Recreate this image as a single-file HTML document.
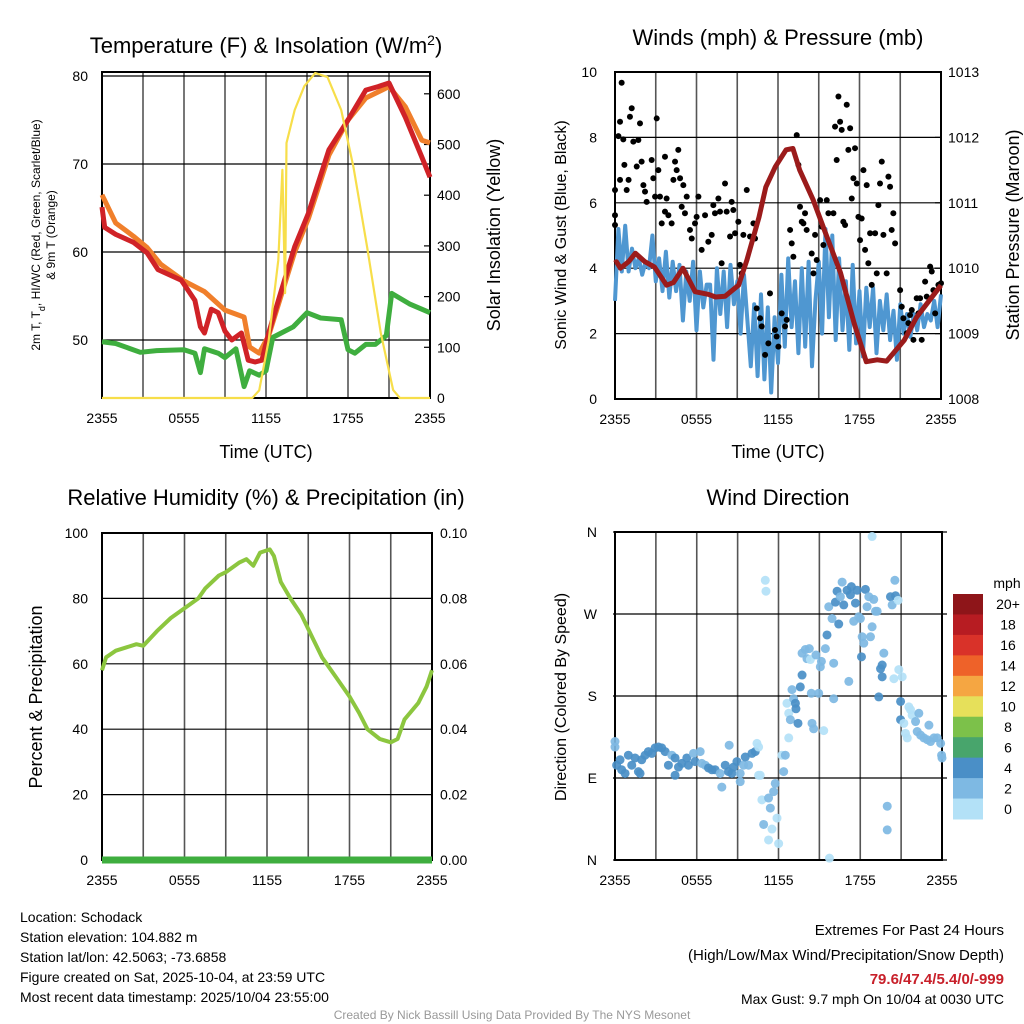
<!DOCTYPE html>
<html><head><meta charset="utf-8">
<style>
html,body{margin:0;padding:0;background:#fff;}
svg{display:block;font-family:"Liberation Sans",Arial,sans-serif;}
</style></head>
<body>
<svg id="chart" width="1024" height="1024" viewBox="0 0 1024 1024" xmlns="http://www.w3.org/2000/svg">
<rect x="0" y="0" width="1024" height="1024" fill="#fff"/>
<g id="p1"></g>
<g id="p2"></g>
<g id="p3"></g>
<g id="p4"></g>

<text x="266" y="53" font-size="22" text-anchor="middle">Temperature (F) &amp; Insolation (W/m<tspan baseline-shift="super" font-size="14">2</tspan>)</text>
<text x="778" y="45" font-size="22" text-anchor="middle">Winds (mph) &amp; Pressure (mb)</text>
<text x="266" y="505" font-size="22" text-anchor="middle">Relative Humidity (%) &amp; Precipitation (in)</text>
<text x="778" y="505" font-size="22" text-anchor="middle">Wind Direction</text>

<text x="266" y="458" font-size="18" text-anchor="middle">Time (UTC)</text>
<text x="778" y="458" font-size="18" text-anchor="middle">Time (UTC)</text>

<text transform="translate(40,235) rotate(-90)" font-size="12" text-anchor="middle">2m T, T<tspan baseline-shift="sub" font-size="9">d</tspan>, HI/WC (Red, Green, Scarlet/Blue)</text>
<text transform="translate(55,235) rotate(-90)" font-size="12" text-anchor="middle">&amp; 9m T (Orange)</text>
<text transform="translate(500,235) rotate(-90)" font-size="18" text-anchor="middle">Solar Insolation (Yellow)</text>
<text transform="translate(566,235) rotate(-90)" font-size="16" text-anchor="middle">Sonic Wind &amp; Gust (Blue, Black)</text>
<text transform="translate(1019,235) rotate(-90)" font-size="18" text-anchor="middle">Station Pressure (Maroon)</text>
<text transform="translate(42,697) rotate(-90)" font-size="18" text-anchor="middle">Percent &amp; Precipitation</text>
<text transform="translate(566,697) rotate(-90)" font-size="16" text-anchor="middle">Direction (Colored By Speed)</text>

<g font-size="14">
<text x="20" y="922">Location: Schodack</text>
<text x="20" y="942">Station elevation: 104.882 m</text>
<text x="20" y="962">Station lat/lon: 42.5063; -73.6858</text>
<text x="20" y="982">Figure created on Sat, 2025-10-04, at 23:59 UTC</text>
<text x="20" y="1002">Most recent data timestamp: 2025/10/04 23:55:00</text>
</g>
<g text-anchor="end">
<text x="1004" y="935" font-size="15">Extremes For Past 24 Hours</text>
<text x="1004" y="960" font-size="15">(High/Low/Max Wind/Precipitation/Snow Depth)</text>
<text x="1004" y="984" font-size="15" font-weight="bold" fill="#c8202a">79.6/47.4/5.4/0/-999</text>
<text x="1004" y="1004" font-size="14">Max Gust: 9.7 mph On 10/04 at 0030 UTC</text>
</g>
<text x="512" y="1019" font-size="12" fill="#999" text-anchor="middle">Created By Nick Bassill Using Data Provided By The NYS Mesonet</text>
</svg>
<script>
// ---------- data ----------
const xTickLabels = ["2355","0555","1155","1755","2355"];
const tempTicks = [50,60,70,80];
const insolTicks = [0,100,200,300,400,500,600];
const windTicks = [0,2,4,6,8,10];
const presTicks = [1008,1009,1010,1011,1012,1013];
const rhTicks = [0,20,40,60,80,100];
const precipTicks = ["0.00","0.02","0.04","0.06","0.08","0.10"];
const dirTicks = ["N","E","S","W","N"];

const tempT = [0,0.2,1,2.3,3.3,4.1,5.8,6.8,7.2,7.5,8.0,8.5,9.0,9.5,10.2,10.7,11.2,11.7,12.2,13.0,14.1,15.1,16.6,18.0,19.3,20.2,21.0,22.2,23.4,24];
const tempRed = [65.1,62.8,62.0,61.1,59.9,58.0,56.8,54.5,51.5,50.8,53.5,53.1,51.0,50.0,50.8,47.7,47.5,47.7,50.8,55.0,60.6,64.4,71.6,75.0,78.4,78.8,79.2,75.3,70.8,68.5];
const orangeT = [0,1,2.3,3.3,4.3,6,7.5,9,10.4,10.8,11.5,12.2,14.1,15.1,16.6,18,19.3,21,22.2,23.4,24];
const tempOrange = [66.5,63.3,61.8,60.5,58.6,56.7,55.5,53.4,52.6,49.2,48.5,50.5,60.0,63.8,71.0,75.0,77.5,78.8,76.5,72.7,72.4];
const dewT = [0,1,2.8,4,6,6.8,7.2,7.5,8.5,9,9.8,10.4,10.8,11.5,12,12.5,14,15,16,17.5,18,18.5,19.3,20,20.8,21.2,22.5,24];
const dewGreen = [49.8,49.6,48.6,48.8,48.9,48.5,46.3,49.0,48.5,48.0,49.0,44.7,46.5,46.0,46.5,50.3,51.5,53.1,52.5,52.3,48.9,48.5,49.5,49.5,50.5,55.3,54.1,53.1];
const solT = [0,11.0,11.5,12.2,12.9,13.2,13.4,13.5,14.1,14.8,15.6,16.5,17.5,18.4,19.4,20.4,21.3,21.8,24];
const solar = [0,0,15,114,272,450,207,503,568,615,641,633,568,455,298,128,16,0,0];

const presT = [0,0.1,0.4,1.0,1.5,2.2,2.9,3.8,4.3,5.0,5.9,6.9,7.4,8.1,9.1,9.7,10.6,11.1,11.8,12.6,13.1,13.6,14.6,15.6,16.6,17.6,18.5,19.3,20.0,21.3,22.2,24];
const pressure = [1010.08,1010.1,1010.0,1010.1,1010.23,1010.1,1010.02,1009.74,1009.78,1010.0,1009.64,1009.6,1009.56,1009.57,1009.74,1010.12,1010.78,1011.24,1011.55,1011.81,1011.83,1011.5,1011.04,1010.48,1009.93,1009.16,1008.57,1008.6,1008.58,1008.9,1009.25,1009.74];
const sonicWind = [3.0,5.2,3.9,5.3, 3.9,4.6,4.0,4.3, 3.8,4.2,4.0,5.0, 3.6,4.3,3.3,4.5, 3.1,4.2,3.3,4.1, 2.4,3.9,3.0,4.2, 2.1,3.9,2.8,3.5, 3.5,1.2,4.0,2.6, 3.9,2.2,4.1,2.9, 3.6,2.0,3.8,2.4, 1.0,2.9,0.7,3.2, 0.6,2.8,0.2,2.5, 1.1,3.8,1.6,4.3, 2.2,3.6,1.4,4.0, 1.6,4.2,1.0,3.0, 4.2,2.0,5.2,2.5, 5.0,1.8,4.3,2.1, 3.6,1.5,4.1,1.7, 3.3,1.3,3.4,2.2, 3.4,1.4,3.0,2.1, 3.2,1.8,2.7,1.2, 2.9,2.0,2.6,1.9, 2.6,2.1,2.9,2.2, 2.6,2.4,3.0,2.2,3.2];
// gusts: [hour, mph]
const gusts = [[0.49,9.67],[0.37,8.48],[0.25,8.04],[0.61,7.94],[0,6.39],[0,5.62],[0,5.32],[0.69,7.16],[0.37,6.7],[0.86,6.39],[1.0,6.7],[1.1,8.63],[1.23,8.89],[1.35,7.87],[1.6,7.11],[1.72,7.92],[1.84,8.43],[1.96,7.26],[2.09,6.54],[2.21,6.34],[2.33,6.03],[2.7,7.31],[2.82,6.75],[2.95,6.19],[3.07,8.58],[3.19,7.0],[3.31,6.19],[3.44,5.37],[3.68,7.41],[3.8,6.13],[3.68,5.73],[3.93,5.62],[4.17,5.37],[4.3,6.7],[4.42,7.26],[4.54,7.0],[4.66,7.62],[4.79,6.75],[4.91,5.88],[5.03,6.54],[5.15,5.68],[5.28,6.19],[5.52,5.17],[5.65,4.91],[5.89,5.37],[6.01,5.57],[6.14,6.19],[6.38,4.56],[6.63,5.62],[6.87,4.81],[7.12,5.02],[7.24,5.93],[7.36,5.68],[7.61,6.13],[7.73,5.73],[7.85,4.15],[8.1,6.59],[8.22,5.73],[8.47,4.97],[8.59,6.03],[8.71,5.78],[8.84,5.07],[9.08,5.42],[9.2,4.1],[9.33,3.84],[9.45,5.02],[9.7,6.39],[9.94,4.97],[10.19,5.37],[10.31,4.91],[10.43,2.77],[10.68,2.47],[10.8,2.22],[11.05,1.35],[11.29,1.7],[11.41,3.23],[11.78,2.11],[11.9,1.91],[12.03,1.6],[12.27,2.62],[12.52,2.22],[12.64,2.42],[12.89,5.17],[13.01,4.76],[13.13,4.35],[13.38,8.07],[13.5,7.16],[13.62,5.88],[13.75,5.42],[13.87,5.37],[13.99,5.68],[14.11,5.17],[14.48,4.45],[14.61,3.84],[14.73,5.02],[14.85,4.25],[15.1,6.08],[15.22,5.27],[15.34,4.71],[15.59,6.08],[15.71,5.68],[16.08,5.68],[16.2,8.33],[16.32,7.31],[16.45,9.25],[16.57,8.48],[16.69,8.23],[16.81,5.42],[16.94,5.32],[17.06,9.0],[17.18,7.62],[17.31,8.28],[17.43,6.13],[17.55,6.75],[17.67,7.67],[17.8,6.59],[17.92,5.57],[18.04,4.86],[18.16,5.52],[18.29,7.0],[18.41,4.56],[18.53,6.54],[18.65,4.15],[18.78,5.07],[18.9,3.49],[19.15,5.07],[19.27,3.84],[19.39,5.93],[19.51,6.59],[19.64,7.26],[19.76,5.02],[20.0,3.84],[20.13,6.8],[20.25,6.49],[20.37,5.17],[20.49,5.68],[20.62,4.76],[20.99,3.33],[21.11,2.82],[21.23,2.47],[21.48,2.01],[21.6,2.32],[21.72,2.57],[21.85,2.72],[21.97,1.81],[22.21,3.08],[22.34,2.62],[22.46,3.08],[22.58,1.81],[22.83,3.59],[22.95,3.13],[23.2,4.05],[23.32,3.9],[23.44,3.33],[23.57,2.62],[23.81,3.49],[24,3.54]];

const rhT = [0,0.3,1,2.5,3,4,5,6,7,7.5,8.5,9,10,10.5,11,11.5,12.2,12.5,13,13.7,14.5,15.3,16,17,18,18.7,19.3,20.2,21,21.5,22,23,23.6,24];
const rh = [58,62,64,66,65.5,70,74,77,80,83,87,88,91,92,90,94,95,93,85,80,75,68,62,56,50,45,40,37,36,37,43,48,53,58];
const precipT = [0,24];
const precip = [0,0];

// wind direction observations: [hour, degrees, mph]
const dirObs = [[0,130,3],[0,124,3],[0.12,104,5],[0.37,110,5],[0.49,99,5],[0.74,95,5],[0.98,115,5],[1.23,104,5],[1.47,112,5],[1.72,97,5],[1.84,95,5],[1.96,110,5],[2.21,115,5],[2.45,119,5],[2.7,117,5],[2.94,123,5],[3.19,124,5],[3.43,123,5],[3.68,119,5],[3.92,104,5],[4.17,115,3],[4.41,112,5],[4.41,93,5],[4.66,102,5],[4.9,106,5],[5.27,112,5],[5.39,104,5],[5.76,117,3],[5.88,108,5],[6.25,119,3],[6.37,106,3],[6.62,104,3],[6.86,101,5],[7.11,99,5],[7.35,99,5],[7.72,95,3],[7.84,80,3],[8.09,104,5],[8.33,97,5],[8.38,126,3],[8.58,95,5],[8.7,102,5],[8.95,108,5],[9.19,95,3],[9.19,86,3],[9.44,104,3],[9.56,113,5],[9.8,104,3],[10.05,117,5],[10.29,119,5],[10.42,128,1],[10.54,124,1],[10.54,93,1],[10.66,93,1],[10.78,66,1],[11.03,307,1],[11.08,295,1],[11.27,68,3],[11.4,57,3],[10.91,39,3],[11.27,22,1],[11.52,34,1],[11.64,75,3],[11.76,84,3],[11.89,46,1],[12.01,18,1],[12.25,115,1],[12.38,97,3],[12.5,115,3],[12.75,134,1],[12.62,172,1],[12.75,161,1],[12.87,154,3],[12.99,187,3],[13.11,177,3],[13.24,172,5],[13.28,166,5],[13.43,150,5],[13.6,190,5],[13.73,203,5],[13.73,227,3],[13.97,231,3],[14.09,221,3],[14.34,220,1],[14.26,232,3],[14.41,183,3],[14.46,150,3],[14.58,144,3],[14.75,225,3],[14.95,183,3],[15.07,212,3],[15.15,218,3],[15.32,142,1],[15.44,232,3],[15.56,247,5],[15.69,278,3],[15.93,265,3],[16.05,216,3],[16.05,177,3],[16.42,259,5],[16.18,283,5],[16.3,295,5],[16.54,289,3],[16.67,305,3],[16.79,280,5],[17.03,296,5],[17.16,196,3],[17.28,291,5],[17.35,300,5],[17.52,262,3],[17.65,282,5],[17.77,296,5],[17.89,267,3],[18.01,265,3],[18.14,245,3],[18.09,223,5],[18.26,238,3],[18.38,297,5],[18.5,278,3],[18.63,289,3],[18.75,245,3],[18.87,256,3],[18.99,286,3],[19.12,273,3],[19.24,273,3],[19.36,179,5],[19.49,210,5],[19.61,201,5],[19.61,214,5],[19.73,227,3],[19.98,59,3],[19.98,33,3],[20.22,289,5],[20.34,280,3],[20.47,199,1],[20.54,307,3],[20.59,290,5],[20.78,285,1],[20.83,209,1],[20.96,174,5],[20.96,154,5],[21.08,201,1],[21.2,150,1],[21.32,139,1],[21.45,134,1],[21.57,168,1],[21.69,165,1],[21.81,159,1],[22.06,152,3],[22.18,141,3],[22.3,161,3],[22.43,137,3],[22.67,134,3],[22.92,132,3],[23.04,148,3],[23.16,130,3],[23.41,134,3],[23.65,134,3],[23.9,128,3],[23.97,115,3],[24,112,3],[18.87,355,1],[15.74,2,1]];

const cbLabels = ["20+","18","16","14","12","10","8","6","4","2","0"];
const cbColors = ["#8e1519","#b71c22","#d93229","#ee6229","#f5a642","#e6e05a","#7cc14a","#48a56c","#4a8fc7","#7eb9e3","#b3e1f7"];

// ---------- helpers ----------
const NS = "http://www.w3.org/2000/svg";
function mk(parent, tag, attrs){
  const e = document.createElementNS(NS, tag);
  for (const k in attrs) e.setAttribute(k, attrs[k]);
  parent.appendChild(e);
  return e;
}
function poly(xs, ys){ return xs.map((x,i)=>x.toFixed(1)+","+ys[i].toFixed(1)).join(" "); }
function speedColor(s){ const bin = Math.min(10, Math.floor(s/2)); return cbColors[10-bin]; }

function frame(g, x0, x1, y0, y1){
  for (let i=1;i<8;i++){
    const x = x0 + (x1-x0)*i/8;
    const el = mk(g,"line",{x1:x,x2:x,y1:y0,y2:y1,stroke:"#555",'stroke-width':1.6});
    
    
  }
  const r = mk(g,"rect",{x:x0,y:y0,width:x1-x0,height:y1-y0,fill:"none",stroke:"#000",'stroke-width':2});
  
  
  xTickLabels.forEach((s,i)=>{
    const x = x0 + (x1-x0)*i/4;
    const t = mk(g,"text",{x:x,y:y1+25,'font-size':14,'text-anchor':'middle'});
    t.textContent = s;
    
    
  });
}
function hgrid(g, x0, x1, y){
  const el = mk(g,"line",{x1:x0,x2:x1,y1:y,y2:y,stroke:"#000",'stroke-width':1.2});
  
  
}
function ylabel(g, x, y, s, anchor){
  const t = mk(g,"text",{x:x,y:y+5,'font-size':14,'text-anchor':anchor});
  t.textContent = s;
  
  
}
function rtick(g, x, y, len){
  const el = mk(g,"line",{x1:x-len,x2:x,y1:y,y2:y,stroke:"#000",'stroke-width':1.2});
  
  
}

// ---------- panel 1 ----------
(function(){
  const g = document.getElementById("p1");
  const X0=102,X1=430,Y0=72,Y1=398;
  const xs = t => X0 + t*(X1-X0)/24;
  const yT = v => 76 + (80-v)*8.8;
  const yI = v => Y1 - v*0.507;
  frame(g,X0,X1,Y0,Y1);
  tempTicks.forEach(v=>{ hgrid(g,X0,X1,yT(v)); ylabel(g,88,yT(v),String(v),'end'); });
  insolTicks.forEach(v=>{ rtick(g,X1,yI(v),6); ylabel(g,437,yI(v),String(v),'start'); });
  const lines = [
    [dewT, dewGreen, "#3fae3f", 'dewpoint-line'],
    [orangeT, tempOrange, "#f07f2b", 'nine-meter-temp-line'],
    [tempT, tempRed, "#d02227", 'two-meter-temp-line'],
  ];
  lines.forEach(L=>{
    const p = mk(g,"polyline",{points:poly(L[0].map(xs),L[1].map(yT)),fill:"none",stroke:L[2],'stroke-width':5,'stroke-linejoin':'round'});
    
    
  });
  const s = mk(g,"polyline",{points:poly(solT.map(xs),solar.map(yI)),fill:"none",stroke:"#f7de4a",'stroke-width':2.2,'stroke-linejoin':'round'});
  
  
})();

// ---------- panel 2 ----------
(function(){
  const g = document.getElementById("p2");
  const X0=615,X1=941,Y0=72,Y1=399;
  const xs = t => X0 + t*(X1-X0)/24;
  const yW = v => Y1 - v*(Y1-Y0)/10;
  const yP = p => Y1 - (p-1008)*(Y1-Y0)/5;
  frame(g,X0,X1,Y0,Y1);
  windTicks.forEach(v=>{ hgrid(g,X0,X1,yW(v)); ylabel(g,597,yW(v),String(v),'end'); });
  presTicks.forEach(v=>{ rtick(g,X1,yP(v),6); ylabel(g,948,yP(v),String(v),'start'); });
  const st = sonicWind.map((v,i)=>i*24/(sonicWind.length-1));
  const w = mk(g,"polyline",{points:poly(st.map(xs),sonicWind.map(yW)),fill:"none",stroke:"#4f97d1",'stroke-width':4,'stroke-linejoin':'round'});
  
  
  gusts.forEach(d=>{
    const c = mk(g,"circle",{cx:xs(d[0]),cy:yW(d[1]),r:3,fill:"#000"});
    
    
  });
  const p = mk(g,"polyline",{points:poly(presT.map(xs),pressure.map(yP)),fill:"none",stroke:"#9b1b1b",'stroke-width':5,'stroke-linejoin':'round'});
  
  
})();

// ---------- panel 3 ----------
(function(){
  const g = document.getElementById("p3");
  const X0=102,X1=432,Y0=533,Y1=860;
  const xs = t => X0 + t*(X1-X0)/24;
  const yR = v => Y1 - v*(Y1-Y0)/100;
  frame(g,X0,X1,Y0,Y1);
  rhTicks.forEach((v,i)=>{ hgrid(g,X0,X1,yR(v)); ylabel(g,88,yR(v),String(v),'end'); ylabel(g,440,yR(v),precipTicks[i],'start'); });
  const r = mk(g,"polyline",{points:poly(rhT.map(xs),rh.map(yR)),fill:"none",stroke:"#8cc63f",'stroke-width':4,'stroke-linejoin':'round'});
  
  
  const yPr = v => Y1 - v*(Y1-Y0)/0.1;
  const pr = mk(g,"polyline",{points:poly(precipT.map(xs),precip.map(yPr)),fill:"none",stroke:"#3fae3f",'stroke-width':7});
  
  
})();

// ---------- panel 4 ----------
(function(){
  const g = document.getElementById("p4");
  const X0=615,X1=942,Y0=532,Y1=860;
  const xs = t => X0 + t*(X1-X0)/24;
  const yD = d => Y1 - d*(Y1-Y0)/360;
  frame(g,X0,X1,Y0,Y1);
  dirTicks.forEach((s,i)=>{ hgrid(g,X0-2,X1+5,yD(i*90)); ylabel(g,597,yD(i*90),s,'end'); });
  dirObs.forEach(d=>{
    const c = mk(g,"circle",{cx:xs(d[0]),cy:yD(d[1]),r:4.5,fill:speedColor(d[2]),'fill-opacity':0.92});
    
    
  });
  const t = mk(g,"text",{x:1007,y:588,'font-size':14,'text-anchor':'middle'});
  t.textContent = "mph";
  
  
  const h = 225/cbColors.length;
  cbColors.forEach((c,i)=>{
    const r = mk(g,"rect",{x:953,y:594+i*h,width:30,height:h+0.5,fill:c});
    
    
    const l = mk(g,"text",{x:1008,y:594+i*h+h/2+5,'font-size':14,'text-anchor':'middle'});
    l.textContent = cbLabels[i];
    
    
  });
})();
</script>
</body></html>
